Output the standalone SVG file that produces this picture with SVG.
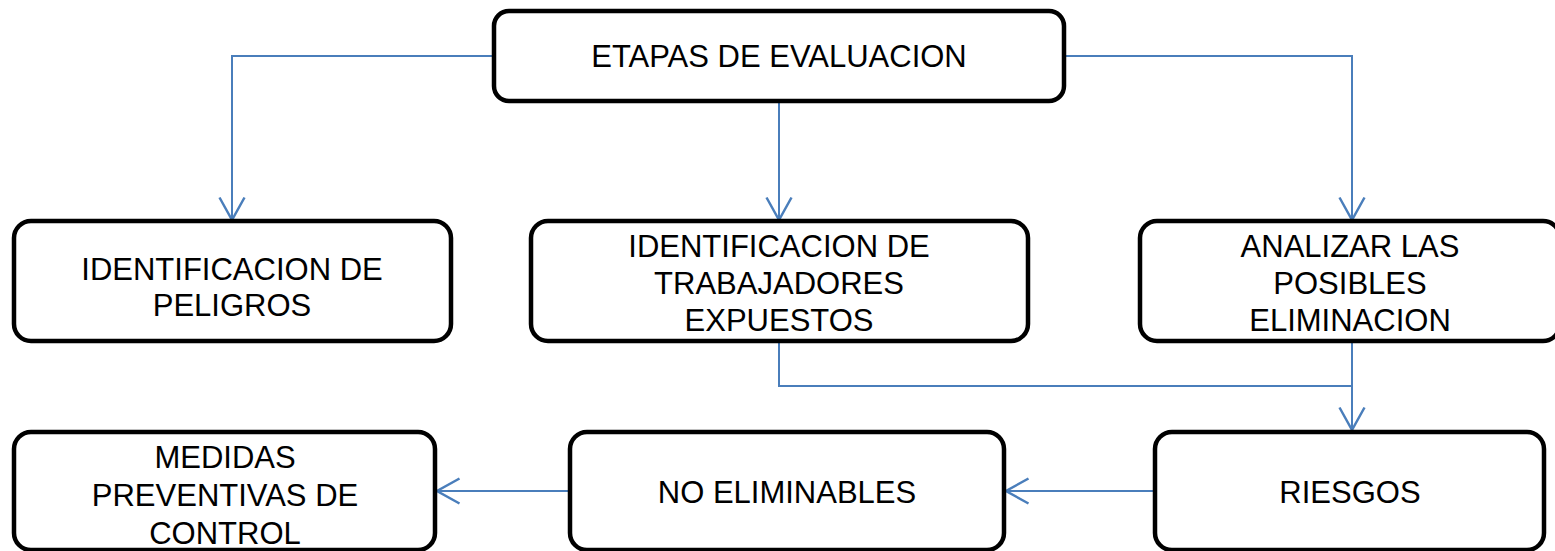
<svg xmlns="http://www.w3.org/2000/svg" width="1555" height="551" viewBox="0 0 1555 551">
<style>
.box{fill:#fff;stroke:#000;stroke-width:4.5}
.t{font-family:"Liberation Sans",Arial,sans-serif;font-size:31px;fill:#000;text-anchor:middle}
.c{fill:none;stroke:#4a7ebb;stroke-width:2}
</style>
<defs>
<marker id="ah" markerUnits="userSpaceOnUse" markerWidth="30" markerHeight="30" viewBox="-20 -12 22 24" refX="0" refY="0" orient="auto">
<path d="M-18,-10 L0,0 L-18,10" fill="none" stroke="#4a7ebb" stroke-width="2"/>
</marker>
</defs>
<rect width="1555" height="551" fill="#fff"/>
<g id="connectors">
<polyline class="c" points="494,56 232,56 232,220" marker-end="url(#ah)"/>
<polyline class="c" points="779,101 779,220" marker-end="url(#ah)"/>
<polyline class="c" points="1064,56 1352,56 1352,220" marker-end="url(#ah)"/>
<polyline class="c" points="779,342 779,386 1352,386"/>
<polyline class="c" points="1352,341 1352,430" marker-end="url(#ah)"/>
<polyline class="c" points="1155,491 1006,491" marker-end="url(#ah)"/>
<polyline class="c" points="570,491 437,491" marker-end="url(#ah)"/>
</g>
<g id="etapas">
<rect class="box" x="494" y="11" width="570" height="90" rx="15"/>
<text class="t" x="779" y="67">ETAPAS DE EVALUACION</text>
</g>
<g id="peligros">
<rect class="box" x="14" y="221" width="437" height="120" rx="17"/>
<text class="t" x="232" y="280">IDENTIFICACION DE</text>
<text class="t" x="232" y="316">PELIGROS</text>
</g>
<g id="trabajadores">
<rect class="box" x="531" y="221" width="497" height="120" rx="17"/>
<text class="t" x="779" y="257">IDENTIFICACION DE</text>
<text class="t" x="779" y="294">TRABAJADORES</text>
<text class="t" x="779" y="331">EXPUESTOS</text>
</g>
<g id="analizar">
<rect class="box" x="1140" y="221" width="420" height="120" rx="17"/>
<text class="t" x="1350" y="257">ANALIZAR LAS</text>
<text class="t" x="1350" y="294">POSIBLES</text>
<text class="t" x="1350" y="331">ELIMINACION</text>
</g>
<g id="medidas">
<rect class="box" x="14" y="432" width="421" height="118" rx="17"/>
<text class="t" x="225" y="468">MEDIDAS</text>
<text class="t" x="225" y="506">PREVENTIVAS DE</text>
<text class="t" x="225" y="544">CONTROL</text>
</g>
<g id="noeliminables">
<rect class="box" x="570" y="432" width="434" height="118" rx="17"/>
<text class="t" x="787" y="503">NO ELIMINABLES</text>
</g>
<g id="riesgos">
<rect class="box" x="1155" y="432" width="389" height="118" rx="17"/>
<text class="t" x="1350" y="503">RIESGOS</text>
</g>
</svg>
